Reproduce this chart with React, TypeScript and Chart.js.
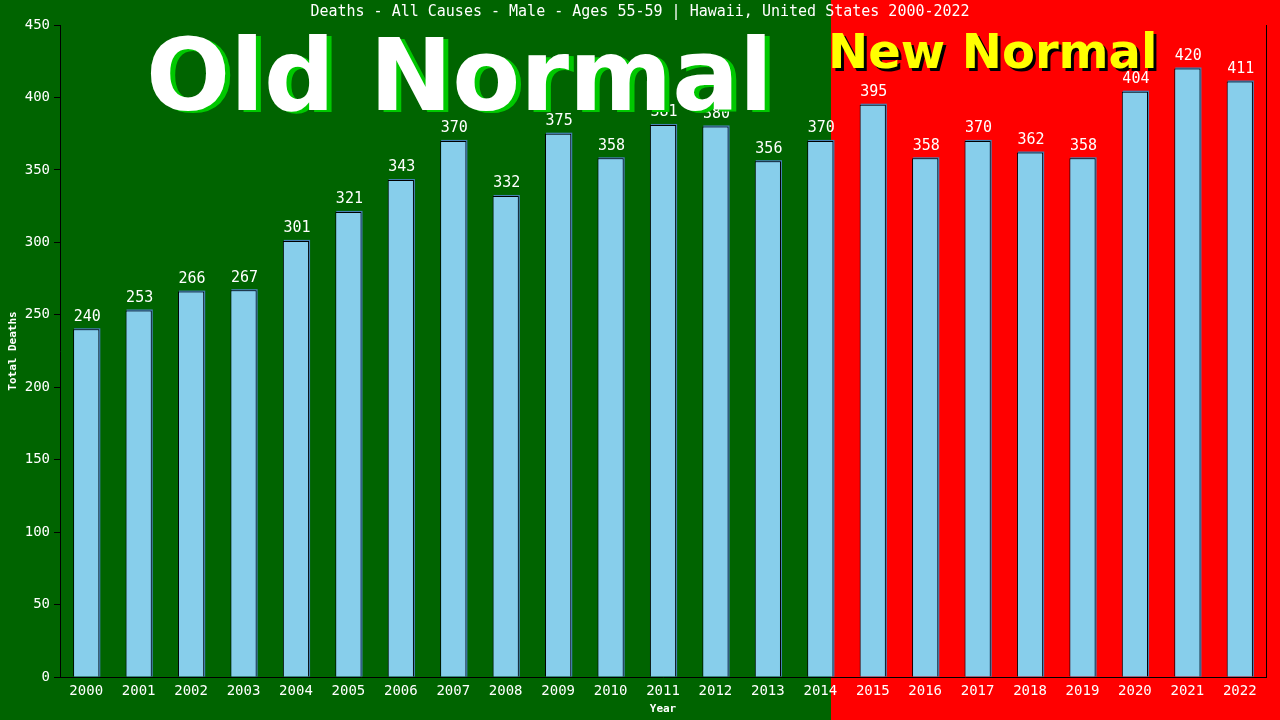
import React, { useEffect, useRef } from "react";
import { Chart, registerables } from "chart.js";

Chart.register(...registerables);

const years = ["2000","2001","2002","2003","2004","2005","2006","2007","2008","2009","2010","2011","2012","2013","2014","2015","2016","2017","2018","2019","2020","2021","2022"];
const deaths = [240,253,266,267,301,321,343,370,332,375,358,381,380,356,370,395,358,370,362,358,404,420,411];
const yMin = 0;
const yMax = 450;
const yStep = 50;
const chartTitle = "Deaths - All Causes - Male - Ages 55-59 | Hawaii, United States 2000-2022";
const yTitle = "Total Deaths";
const xTitle = "Year";
const oldLabel = "Old Normal";
const newLabel = "New Normal";
const lastOldIndex = 14;

const MONO = "'DejaVu Sans Mono', 'Liberation Mono', monospace";
const SANS_BOLD = "bold 99px 'DejaVu Sans', Verdana, sans-serif";

const decorPlugin = {
  id: "decor",
  beforeDraw(chart: any) {
    const { ctx, width, height, scales } = chart;
    const xs = scales.x;
    const step = xs.getPixelForValue(1) - xs.getPixelForValue(0);
    const splitX = Math.round(xs.getPixelForValue(lastOldIndex) + 0.2 * step);
    ctx.save();
    ctx.fillStyle = "#006400";
    ctx.fillRect(0, 0, splitX, height);
    ctx.fillStyle = "#ff0000";
    ctx.fillRect(splitX, 0, width - splitX, height);
    ctx.restore();
  },
  beforeDatasetsDraw(chart: any) {
    const { ctx } = chart;
    const meta = chart.getDatasetMeta(0);
    ctx.save();
    ctx.fillStyle = "#4682b4";
    meta.data.forEach((bar: any) => {
      const w = bar.width;
      const left = bar.x - w / 2;
      ctx.fillRect(left + 1, bar.y - 1, w, bar.base - bar.y + 1);
    });
    ctx.restore();
  },
  afterDatasetsDraw(chart: any) {
    const { ctx, chartArea } = chart;
    const meta = chart.getDatasetMeta(0);
    ctx.save();
    ctx.fillStyle = "#ffffff";
    ctx.font = `15px ${MONO}`;
    ctx.textAlign = "center";
    ctx.textBaseline = "bottom";
    meta.data.forEach((bar: any, i: number) => {
      ctx.fillText(String(deaths[i]), bar.x + 1, bar.y - 5);
    });
    ctx.strokeStyle = "#000000";
    ctx.lineWidth = 1;
    ctx.beginPath();
    ctx.moveTo(Math.round(chartArea.right) + 0.5, chartArea.top);
    ctx.lineTo(Math.round(chartArea.right) + 0.5, chartArea.bottom);
    ctx.stroke();
    ctx.font = `15px ${MONO}`;
    ctx.textBaseline = "middle";
    ctx.fillText(chartTitle, 640, 12);
    ctx.font = `bold 11px ${MONO}`;
    ctx.fillText(xTitle, (chartArea.left + chartArea.right) / 2, 709);
    ctx.translate(13, (chartArea.top + chartArea.bottom) / 2);
    ctx.rotate(-Math.PI / 2);
    ctx.fillText(yTitle, 0, 0);
    ctx.restore();
  },
  afterDraw(chart: any) {
    const { ctx } = chart;
    ctx.save();
    ctx.textAlign = "left";
    ctx.textBaseline = "alphabetic";
    ctx.font = SANS_BOLD;
    ctx.fillStyle = "#00c800";
    ctx.fillText(oldLabel, 151, 112);
    ctx.fillStyle = "#ffffff";
    ctx.fillText(oldLabel, 146, 110);
    ctx.font = "bold 48px 'DejaVu Sans', Verdana, sans-serif";
    ctx.fillStyle = "#000000";
    ctx.fillText(newLabel, 831, 71);
    ctx.fillStyle = "#ffff00";
    ctx.fillText(newLabel, 828, 68);
    ctx.restore();
  },
};

export default function App() {
  const ref = useRef<HTMLCanvasElement | null>(null);
  useEffect(() => {
    document.body.style.margin = "0";
    const canvas = ref.current;
    if (!canvas) return;
    const chart = new Chart(canvas, {
      type: "bar",
      data: {
        labels: years,
        datasets: [
          {
            data: deaths,
            backgroundColor: "#87ceeb",
            borderColor: "#000000",
            borderWidth: { left: 1, top: 1, right: 1, bottom: 0 },
            borderSkipped: false,
            barPercentage: 0.5,
            categoryPercentage: 1,
          },
        ],
      },
      options: {
        animation: false,
        responsive: false,
        maintainAspectRatio: false,
        devicePixelRatio: 1,
        layout: { padding: { top: 25, right: 14, left: 0, bottom: 0 } },
        plugins: {
          legend: { display: false },
          tooltip: { enabled: false },
          title: { display: false },
        },
        scales: {
          x: {
            grid: { display: false, drawTicks: false },
            border: { display: true, color: "#000000", width: 1 },
            ticks: {
              color: "#ffffff",
              font: { family: MONO, size: 14 },
              padding: 6,
              maxRotation: 0,
              autoSkip: false,
            },
            afterFit(scale: any) {
              scale.height = 43;
            },
          },
          y: {
            min: yMin,
            max: yMax,
            grid: { drawOnChartArea: false, drawTicks: true, tickLength: 6, color: "#000000" },
            border: { display: true, color: "#000000", width: 1 },
            ticks: {
              stepSize: yStep,
              color: "#ffffff",
              font: { family: MONO, size: 14 },
              padding: 4,
            },
            afterFit(scale: any) {
              scale.width = 60;
            },
          },
        },
      },
      plugins: [decorPlugin],
    });
    return () => chart.destroy();
  }, []);
  return (
    <div style={{ position: "fixed", left: 0, top: 0, width: 1280, height: 720 }}>
      <canvas ref={ref} width={1280} height={720} style={{ display: "block" }} />
    </div>
  );
}
